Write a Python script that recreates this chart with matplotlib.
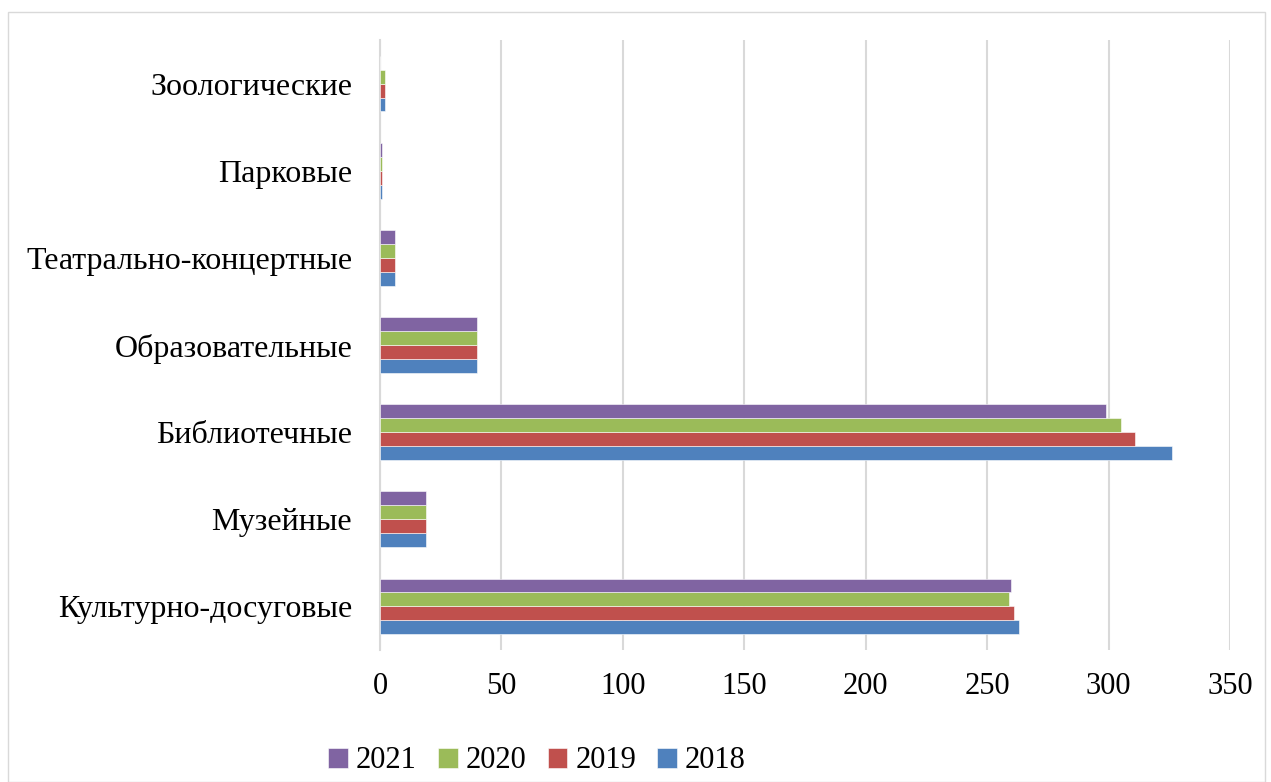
import numpy as np
import matplotlib.pyplot as plt
from matplotlib.patches import Rectangle

categories = ["Культурно-досуговые", "Музейные", "Библиотечные", "Образовательные",
              "Театрально-концертные", "Парковые", "Зоологические"]
years = ["2018", "2019", "2020", "2021"]
v2018 = [263, 19, 326, 40, 6, 1, 2]
v2019 = [261, 19, 311, 40, 6, 1, 2]
v2020 = [259, 19, 305, 40, 6, 1, 2]
v2021 = [260, 19, 299, 40, 6, 1, 0]
colors = ["#4F81BD", "#C0504D", "#9BBB59", "#8064A2"]

plt.rcParams["font.family"] = ["Liberation Serif", "DejaVu Serif"]

fig = plt.figure(figsize=(12.71, 7.82), dpi=100)
ax = fig.add_axes([380 / 1271, 1 - 650 / 782, 850 / 1271, 610 / 782])

y = np.arange(len(categories))
h = 0.16
series = [v2018, v2019, v2020, v2021]
handles = []
for i, (vals, c, yr) in enumerate(zip(series, colors, years)):
    b = ax.barh(y + (i - 1.5) * h, vals, height=h, color=c, label=yr,
                edgecolor="white", linewidth=0.4, zorder=3)
    handles.append(b)

ax.set_xlim(0, 350)
ax.set_ylim(-0.5, len(categories) - 0.5)
ax.set_xticks(range(0, 351, 50))
ax.set_yticks(y)
ax.set_yticklabels(categories, fontsize=23)
ax.tick_params(axis="x", length=0, labelsize=22, colors="black", pad=16)
ax.tick_params(axis="y", length=0, colors="black", pad=20)
ax.grid(axis="x", color="#D9D9D9", linewidth=1.5, zorder=0)
for s in ["top", "right", "bottom"]:
    ax.spines[s].set_visible(False)
ax.spines["left"].set_color("#D9D9D9")
ax.spines["left"].set_linewidth(1.5)

fig.legend(handles[::-1], years[::-1], loc="center", bbox_to_anchor=(537 / 1271, 1 - 761 / 782),
           ncol=4, frameon=False, fontsize=22, handlelength=0.65, handleheight=0.65,
           handletextpad=0.25, columnspacing=0.7)

fig.patches.append(Rectangle((8 / 1271, 0), 1 - 14 / 1271, 1 - 12 / 782, transform=fig.transFigure,
                             fill=False, edgecolor="#D9D9D9", linewidth=1))

fig.savefig("out.png", dpi=100)
